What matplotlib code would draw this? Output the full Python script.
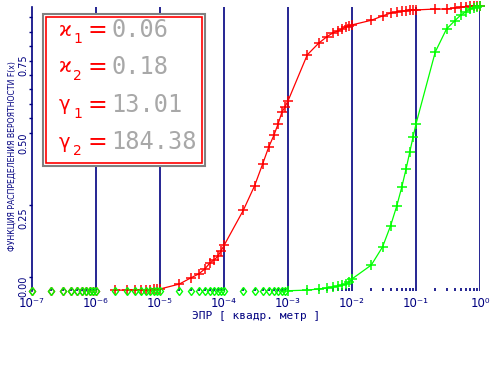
import numpy as np
import matplotlib
matplotlib.use("Agg")
import matplotlib.pyplot as plt
from matplotlib.patches import Rectangle
from matplotlib.ticker import FixedLocator, NullFormatter, NullLocator

# ---- data (grid k*10^n) ----
decades = [-7, -6, -5, -4, -3, -2, -1]
mults = [1, 2, 3, 4, 5, 6, 7, 8, 9]
x = [m * 10.0 ** d for d in decades for m in mults] + [1.0]

red_F = (
    [0, 0, 0, 0, 0, 0, 0, 0, 0] +                                   # 1e-7..9e-7
    [0, 0.003, 0.003, 0.004, 0.004, 0.005, 0.005, 0.006, 0.006] +    # 1e-6..9e-6
    [0.007, 0.024, 0.045, 0.059, 0.076, 0.097, 0.108, 0.12, 0.14] +  # 1e-5..
    [0.158, 0.28, 0.365, 0.44, 0.50, 0.54, 0.58, 0.62, 0.64] +       # 1e-4..
    [0.66, 0.82, 0.86, 0.882, 0.896, 0.903, 0.91, 0.917, 0.92] +     # 1e-3..
    [0.924, 0.94, 0.955, 0.965, 0.969, 0.972, 0.972, 0.976, 0.976] + # 1e-2..
    [0.976, 0.979, 0.979, 0.983, 0.986, 0.986, 0.988, 0.99, 0.99] +  # 1e-1..
    [0.99]
)
green_F = (
    [0] * 9 + [0] * 9 + [0] * 9 + [0] * 9 +
    [0.001, 0.003, 0.007, 0.010, 0.014, 0.017, 0.021, 0.024, 0.031] +  # 1e-3..
    [0.042, 0.09, 0.153, 0.226, 0.295, 0.361, 0.424, 0.483, 0.535] +   # 1e-2..
    [0.58, 0.83, 0.91, 0.9375, 0.958, 0.969, 0.979, 0.983, 0.986] +    # 1e-1..
    [0.99]
)

legend_names = ["ϰ", "ϰ", "γ", "γ"]
legend_subs = ["1", "2", "1", "2"]
legend_vals = ["0.06", "0.18", "13.01", "184.38"]
xtick_labels = ["10⁻⁷", "10⁻⁶", "10⁻⁵", "10⁻⁴", "10⁻³", "10⁻²", "10⁻¹", "10⁰"]
ytick_labels = ["0.00", "0.25", "0.50", "0.75"]
xlabel = "ЭПР [ квадр. метр ]"
ylabel = "ФУНКЦИЯ РАСПРЕДЕЛЕНИЯ ВЕРОЯТНОСТИ F(x)"

NAVY = "#000080"
RED = "#ff0000"
GREEN = "#00ff00"

W, H = 490, 375
fig = plt.figure(figsize=(W / 100, H / 100), dpi=100)
fig.patch.set_facecolor("white")
ax = fig.add_axes([32 / W, (H - 291) / H, 448 / W, 284 / H])
ax.set_xscale("log")
ax.set_xlim(1e-7, 1.0)
ax.set_ylim(0, 284 / 288)

for s in ["top", "right", "bottom"]:
    ax.spines[s].set_visible(False)
ax.spines["left"].set_color(NAVY)
ax.spines["left"].set_linewidth(1.2)

# decade grid lines
for d in range(-6, 1):
    ax.axvline(10.0 ** d, color=NAVY, lw=1.2, zorder=1)

xa = np.array(x)
for F, col in [(red_F, RED), (green_F, GREEN)]:
    Fa = np.array(F)
    pos = Fa > 0
    idx = np.where(pos)[0]
    ax.plot(xa[idx], Fa[idx], color=col, lw=0.9, zorder=3, clip_on=False)
    ax.plot(xa[pos], Fa[pos], ls="none", marker="+", ms=6.5, mew=1.1, color=col,
            zorder=4, clip_on=False)
    ax.plot(xa[~pos], Fa[~pos], ls="none", marker="d", ms=4.5, mew=1.0,
            mfc="none", mec=col, zorder=4, clip_on=False)

# x ticks
ax.xaxis.set_major_locator(FixedLocator([10.0 ** d for d in range(-7, 1)]))
ax.set_xticklabels(xtick_labels)
minor = [m * 10.0 ** d for d in range(-7, 0) for m in range(2, 10)]
ax.xaxis.set_minor_locator(FixedLocator(minor))
ax.xaxis.set_minor_formatter(NullFormatter())
ax.tick_params(axis="x", which="major", length=0, pad=4, labelsize=8.5,
               labelcolor=NAVY)
ax.tick_params(axis="x", which="minor", direction="in", length=2, width=1.2,
               color=NAVY)

# y ticks: minor tick marks, labels placed as text
ax.yaxis.set_major_locator(NullLocator())
ax.yaxis.set_minor_locator(FixedLocator([0.05, 0.30] + [0.55 + 0.05 * i for i in range(9)]))
ax.tick_params(axis="y", which="minor", direction="out", length=2, width=1,
               color=NAVY)
label_px = [286, 218, 143, 65]
for lab, yp in zip(ytick_labels, label_px):
    fig.text(23.5 / W, 1 - yp / H, lab, rotation=90, ha="center", va="center",
             color=NAVY, fontsize=7)

ax.set_xlabel(xlabel, color=NAVY, fontsize=8, labelpad=1,
              family="DejaVu Sans Mono")
fig.text(12 / W, 1 - 156 / H, ylabel, rotation=90, ha="center", va="center",
         color=NAVY, fontsize=5.6)

# legend box
def px(xp, yp):
    return xp / W, 1 - yp / H

fig.patches.append(Rectangle(px(43, 166), 162 / W, 152 / H, transform=fig.transFigure,
                             fill=True, facecolor="white", edgecolor="#808080",
                             lw=1.5, zorder=5))
fig.patches.append(Rectangle(px(46, 163), 156 / W, 146 / H, transform=fig.transFigure,
                             fill=False, edgecolor=RED, lw=1.2, zorder=6))
rows = [30, 67, 105, 142]
for yc, n, sb, v in zip(rows, legend_names, legend_subs, legend_vals):
    fig.text(*px(59, yc), n, color=RED, fontsize=14, va="center", ha="left",
             zorder=10, family=["DejaVu Sans"])
    fig.text(*px(73, yc + 9), sb, color=RED, fontsize=10, va="center", ha="left",
             zorder=10)
    fig.text(*px(88, yc), "=", color=RED, fontsize=17, va="center", ha="left",
             zorder=10)
    fig.text(*px(111, yc), v, color="#a8a8a8", fontsize=17, va="center", ha="left",
             family="DejaVu Sans Mono", zorder=10)

fig.savefig("out.png", dpi=100, facecolor="white")
